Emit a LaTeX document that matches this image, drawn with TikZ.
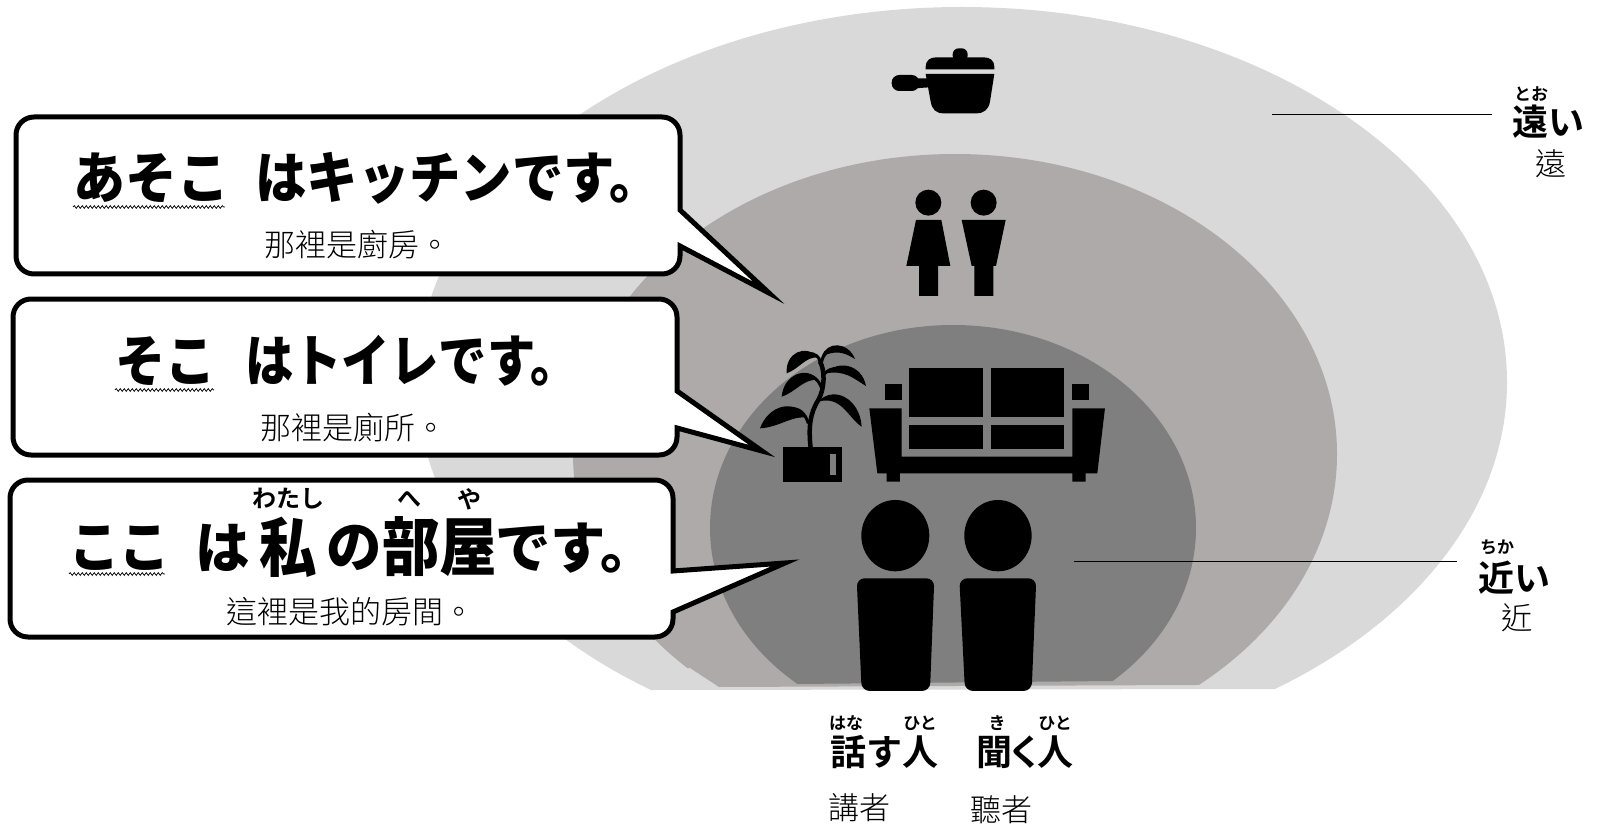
\documentclass[tikz,border=0pt]{standalone}
\usepackage{fontspec}
\usetikzlibrary{decorations.pathmorphing}
\newfontfamily\jpheavy{Noto Sans CJK JP Black}[FakeStretch=.9]
\newfontfamily\jpbold{Noto Sans CJK JP}[BoldFont={Noto Sans CJK JP Bold}]
\newfontfamily\zhthin{Noto Sans CJK TC Light}

\definecolor{farcol}{HTML}{D9D9D9}
\definecolor{midcol}{HTML}{AEAAAA}
\definecolor{nearcol}{HTML}{7F7F7F}

\tikzset{
	bubble/.style={draw=black,line width=5pt,fill=white,miter limit=12},
	bigtext/.style={anchor=west,inner sep=0pt,font=\jpheavy\fontsize{56}{56}\selectfont},
	narrow/.style={transform shape,xscale=#1},
	enlarged/.style={transform shape,scale=#1},
	subtext/.style={anchor=center,inner sep=0pt,font=\zhthin\fontsize{31}{31}\selectfont},
	ruby/.style={anchor=center,inner sep=0pt,font=\jpbold\bfseries\fontsize{17}{17}\selectfont},
	bigruby/.style={anchor=center,inner sep=0pt,font=\jpbold\bfseries\fontsize{24}{24}\selectfont},
	midword/.style={anchor=center,inner sep=0pt,font=\jpbold\bfseries\fontsize{36}{36}\selectfont},
	wavy/.style={line width=.7pt,decorate,decoration={snake,amplitude=1.4pt,segment length=4pt}}
}

\begin{document}
\begin{tikzpicture}[x=1pt,y=-1pt]
	\useasboundingbox (0,0) rectangle (1600,826);

	%areas
	\begin{scope}
		\clip (0,0) -- (1600,0) -- (1600,688) -- (1274,689) -- (652,690) -- (0,690) -- cycle;
		\fill[farcol] (962,382) ellipse [x radius=545,y radius=375];
	\end{scope}
	\begin{scope}
		\clip (0,0) -- (1600,0) -- (1600,684) -- (1193,685) -- (719,687) -- (690,668) -- (0,668) -- cycle;
		\fill[midcol] (955,454) ellipse [x radius=382,y radius=300];
	\end{scope}
	\begin{scope}
		\clip (0,0) -- (1600,0) -- (1600,681) -- (1113,681) -- (797,684) -- (0,684) -- cycle;
		\fill[nearcol] (953,528) ellipse [x radius=243,y radius=203];
	\end{scope}

	%pot
	\begin{scope}[x=.3333pt,y=-.3333pt,shift={(860pt,-20pt)}]
		\fill[rounded corners=6pt] (278,125) -- (278,85) -- (323,85) -- (323,125) -- cycle;
		\fill (197,148) -- (197,140) .. controls (197,122) and (210,112) .. (228,112) -- (372,112) .. controls (390,112) and (403,122) .. (403,140) -- (403,148) -- cycle;
		\fill (197,162) -- (403,162) -- (390,245) .. controls (386,268) and (372,280) .. (350,280) -- (250,280) .. controls (228,280) and (216,268) .. (212,245) -- cycle;
		\fill[rounded corners=7.5pt] (95,165) rectangle (178,213);
		\fill (165,175) -- (203,175) -- (208,202) -- (165,205) -- cycle;
	\end{scope}

	%toilet
	\begin{scope}[x=.3333pt,y=-.3333pt,shift={(860pt,-20pt)}]
		\fill (205,548) circle [radius=39];
		\fill (371,548) circle [radius=39];
		\fill (168,600) -- (244,600) -- (271,738) -- (234,738) -- (234,828) -- (177,828) -- (177,738) -- (139,738) -- cycle;
		\fill (305,600) -- (437,600) -- (408,738) -- (400,738) -- (400,828) -- (343,828) -- (343,738) -- (335,738) -- cycle;
	\end{scope}

	%room
	\begin{scope}[x=.3333pt,y=-.3333pt,shift={(740pt,-320pt)}]
		\fill (388,265) -- (485,265) -- (485,410) -- (997,410) -- (997,265) -- (1095,265) -- (1072,460) -- (1037,460) -- (1037,485) -- (997,485) -- (997,460) -- (480,460) -- (480,485) -- (440,485) -- (440,460) -- (412,460) -- cycle;
		\foreach \x in {508,752} {
			\fill (\x,143) rectangle ++(221,147);
			\fill (\x,314) rectangle ++(221,73);
		}
		\foreach \x in {435,997}
		\fill (\x,191) rectangle ++(50,49);

		\fill (130,382) rectangle (305,485);
		\fill[nearcol] (270,402) rectangle (288,465);
		\draw[line width=4.5pt] (212,385) .. controls (205,320) and (210,280) .. (235,240) .. controls (255,205) and (255,150) .. (240,125);
		\draw[line width=3pt] (205,310) .. controls (195,280) and (180,265) .. (150,265);
		\draw[line width=3pt] (245,205) .. controls (235,175) and (215,165) .. (190,165);
		\draw[line width=3pt] (250,165) .. controls (262,150) and (275,145) .. (295,145);
		\draw[line width=3pt] (240,125) .. controls (238,110) and (225,100) .. (205,100);
		\draw[line width=3pt] (245,125) .. controls (250,100) and (265,90) .. (285,85);
		\fill (60,325) .. controls (85,255) and (165,235) .. (195,292) .. controls (150,290) and (115,322) .. (60,325) -- cycle;
		\fill (235,245) .. controls (280,195) and (360,235) .. (365,320) .. controls (325,295) and (305,225) .. (235,245) -- cycle;
		\fill (125,230) .. controls (130,165) and (200,135) .. (235,180) .. controls (190,175) and (170,215) .. (125,230) -- cycle;
		\fill (258,160) .. controls (290,120) and (365,130) .. (378,198) .. controls (340,175) and (315,150) .. (258,160) -- cycle;
		\fill (140,160) .. controls (135,100) and (195,70) .. (235,112) .. controls (195,110) and (180,145) .. (140,160) -- cycle;
		\fill (245,110) .. controls (260,62) and (325,65) .. (345,117) .. controls (310,95) and (285,90) .. (245,110) -- cycle;
	\end{scope}

	%people
	\begin{scope}[x=.3333pt,y=-.3333pt,shift={(740pt,-320pt)}]
		\fill (466,647) ellipse [x radius=102,y radius=107];
		\fill (774,647) ellipse [x radius=101,y radius=107];
		\fill[rounded corners=8pt] (350,775) -- (583,775) -- (570,1113) -- (365,1113) -- cycle;
		\fill[rounded corners=8pt] (658,775) -- (889,775) -- (875,1113) -- (675,1113) -- cycle;
	\end{scope}

	%bubbles
	\draw[bubble,rounded corners=18pt] (16,117) -- (680,117) [sharp corners] -- (680,210) -- (769,293) -- (680,246) [rounded corners=18pt] -- (680,274) -- (16,274) -- cycle;
	\draw[bubble,rounded corners=18pt] (13,299) -- (677,299) [sharp corners] -- (677,391) -- (762,451) -- (677,428) [rounded corners=18pt] -- (677,455) -- (13,455) -- cycle;
	\draw[bubble,rounded corners=18pt] (10,480) -- (673,480) [sharp corners] -- (673,571) -- (785,563) -- (673,612) [rounded corners=18pt] -- (673,637) -- (10,637) -- cycle;

	%bubble texts
	\node[bigtext,narrow=1.03] (kitchenword) at (73,178) {あそこ};
	\node[bigtext,narrow=1.02] (kitchenrest) at (255,178) {はキッチンです。};
	\node[subtext] (kitchensub) at (357,245) {那裡是廚房。};
	\node[bigtext] (toiletword) at (115,361) {そこ};
	\node[bigtext,narrow=.96] (toiletrest) at (245,361) {はトイレです。};
	\node[subtext] (toiletsub) at (353,428) {那裡是廁所。};
	\node[bigtext] (roomword) at (69,548) {ここ};
	\node[bigtext,narrow=1.08] (roomwa) at (195,548) {は};
	\node[bigtext,enlarged=1.14] (roomwatashi) at (259,547) {私};
	\node[bigtext,narrow=1.1] (roomno) at (326,548) {の};
	\node[bigtext,enlarged=1.14] (roomrest) at (382,547) {部屋};
	\node[bigtext,narrow=1.1] (roomend) at (495,548) {です。};
	\node[subtext] (roomsub) at (350,612) {這裡是我的房間。};
	\node[bigruby] (rubywatashi) at (288,499) {わたし};
	\node[bigruby] (rubyhe) at (409,499) {へ};
	\node[bigruby] (rubyya) at (469,499) {や};

	%underlines
	\coordinate (kitchenline) at (225,207);
	\coordinate (toiletline) at (214,390);
	\coordinate (roomline) at (165,574);
	\draw[wavy] (kitchenword.west |- kitchenline) -- (kitchenline);
	\draw[wavy] (toiletword.west |- toiletline) -- (toiletline);
	\draw[wavy] (roomword.west |- roomline) -- (roomline);

	%distance
	\node[ruby] (rubyfar) at (1531,94) {とお};
	\node[midword] (far) at (1548,122) {遠い};
	\node[subtext] (farsub) at (1551,164) {遠};
	\coordinate (farleft) at (1272,115);
	\coordinate (farright) at (1492,115);
	\draw[line width=1pt] (farleft) -- (farright);
	\node[ruby] (rubynear) at (1497,547) {ちか};
	\node[midword] (near) at (1514,578) {近い};
	\node[subtext] (nearsub) at (1517,618) {近};
	\coordinate (nearleft) at (1074,561);
	\coordinate (nearright) at (1457,561);
	\draw[line width=1pt] (nearleft) -- (nearright);

	%speaker and listener
	\node[ruby] (rubyhana) at (846,723) {はな};
	\node[ruby] (rubyhito) at (920,723) {ひと};
	\node[midword] (speaker) at (884,752) {話す人};
	\node[subtext] (speakersub) at (859,808) {講者};
	\node[ruby] (rubyki) at (997,723) {き};
	\node[ruby] (rubyhitob) at (1055,723) {ひと};
	\node[midword] (listener) at (1025,752) {聞\kern-5pt く\kern-6pt 人};
	\node[subtext] (listenersub) at (1001,810) {聽者};
\end{tikzpicture}
\end{document}
